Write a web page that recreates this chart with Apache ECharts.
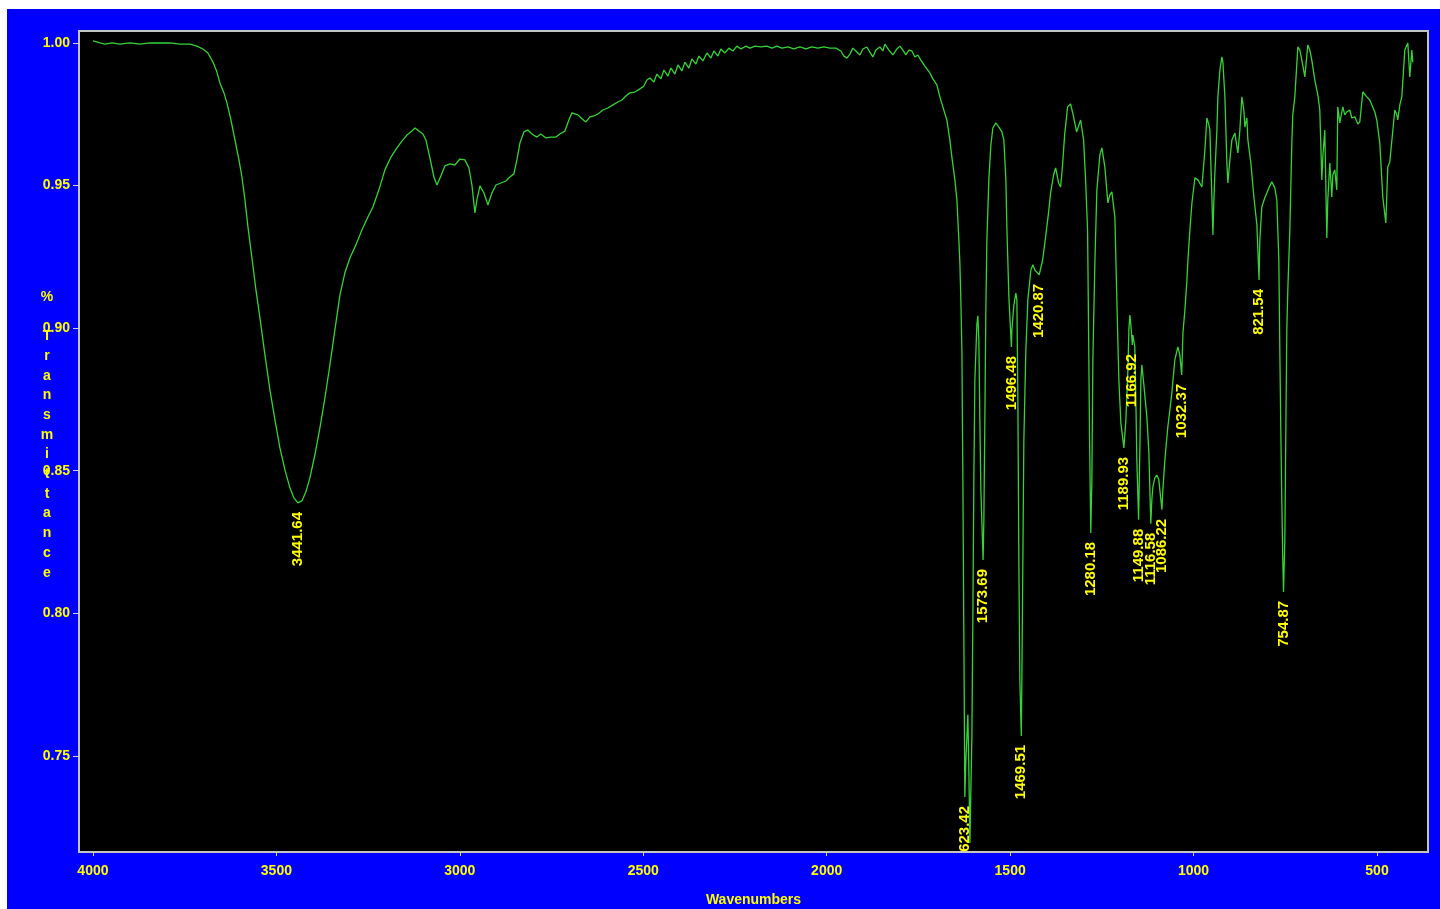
<!DOCTYPE html>
<html>
<head>
<meta charset="utf-8">
<title>% Transmittance vs Wavenumbers</title>
<script src="https://cdn.jsdelivr.net/npm/echarts@6/dist/echarts.min.js"></script>
<style>
  html, body { margin: 0; padding: 0; background: #ffffff; }
  #chart { width: 1440px; height: 909px; }
</style>
</head>
<body>
<div id="chart"></div>
<script>
// FT-IR spectrum: wavenumber (cm-1) and transmittance
const wavenumbers = [
  4000.0, 3989.1, 3980.9, 3967.3, 3948.2, 3926.4, 3899.2, 3871.9, 3844.6, 3817.4,
  3790.1, 3762.9, 3735.6, 3716.5, 3700.2, 3686.6, 3672.9, 3662.0, 3653.9, 3642.9,
  3634.8, 3623.9, 3613.0, 3602.0, 3593.9, 3585.7, 3577.5, 3566.6, 3555.7, 3544.8,
  3531.2, 3517.5, 3503.9, 3490.3, 3476.7, 3463.1, 3452.2, 3441.64, 3430.4, 3419.5,
  3408.6, 3395.0, 3381.3, 3367.7, 3354.1, 3340.5, 3326.8, 3313.2, 3299.6, 3283.2,
  3266.9, 3250.5, 3236.9, 3220.5, 3204.2, 3187.8, 3171.5, 3157.8, 3144.2, 3130.6,
  3122.4, 3111.5, 3100.6, 3092.4, 3081.5, 3070.6, 3062.4, 3051.5, 3040.6, 3027.0,
  3013.4, 2999.8, 2986.1, 2975.2, 2967.0, 2958.9, 2953.4, 2945.2, 2934.3, 2923.4,
  2912.5, 2901.6, 2888.0, 2874.4, 2863.5, 2852.6, 2844.4, 2836.2, 2825.3, 2814.4,
  2803.5, 2789.9, 2779.0, 2765.4, 2751.7, 2738.1, 2727.2, 2713.6, 2702.7, 2694.5,
  2678.1, 2667.2, 2656.3, 2645.4, 2634.5, 2623.6, 2610.0, 2596.4, 2582.7, 2569.1,
  2558.2, 2547.3, 2536.4, 2522.8, 2509.1, 2498.2, 2490.1, 2481.9, 2471.0, 2462.8,
  2451.9, 2443.7, 2432.8, 2424.6, 2413.7, 2405.5, 2394.6, 2386.5, 2375.6, 2367.4,
  2356.5, 2348.3, 2337.4, 2326.5, 2315.6, 2307.4, 2296.5, 2288.4, 2277.5, 2266.6,
  2255.6, 2244.7, 2233.8, 2220.2, 2209.3, 2195.7, 2179.4, 2163.0, 2149.4, 2135.8,
  2122.1, 2105.8, 2089.4, 2073.1, 2056.7, 2040.4, 2024.0, 2007.7, 1991.3, 1974.9,
  1961.3, 1953.1, 1944.9, 1936.8, 1928.6, 1920.4, 1909.5, 1901.4, 1890.5, 1882.3,
  1874.1, 1866.0, 1855.1, 1846.9, 1841.4, 1830.5, 1819.6, 1808.7, 1800.5, 1792.4,
  1784.2, 1776.0, 1767.8, 1759.7, 1751.5, 1743.3, 1732.4, 1718.8, 1710.6, 1699.7,
  1691.5, 1683.4, 1672.5, 1664.3, 1658.8, 1650.6, 1645.1, 1639.7, 1637.0, 1634.3,
  1631.5, 1628.8, 1626.1, 1623.42, 1620.7, 1615.2, 1612.5, 1609.7, 1607.0, 1604.3,
  1601.6, 1598.9, 1596.1, 1590.7, 1588.0, 1585.3, 1582.5, 1579.8, 1573.69, 1571.6,
  1568.9, 1566.2, 1563.4, 1558.0, 1552.5, 1547.1, 1538.9, 1530.7, 1522.5, 1517.1,
  1511.6, 1508.9, 1503.4, 1496.48, 1495.2, 1489.8, 1484.4, 1481.6, 1478.9, 1476.2,
  1473.5, 1469.51, 1468.0, 1465.3, 1462.6, 1457.1, 1451.7, 1446.2, 1443.5, 1438.0,
  1432.6, 1420.87, 1411.4, 1403.3, 1395.1, 1389.7, 1381.5, 1376.0, 1367.9, 1362.4,
  1357.0, 1351.5, 1343.3, 1335.2, 1327.0, 1318.8, 1307.9, 1299.8, 1294.3, 1288.9,
  1286.2, 1283.4, 1280.18, 1277.2, 1274.5, 1269.0, 1263.6, 1255.4, 1249.9, 1241.8,
  1233.6, 1228.2, 1222.7, 1214.5, 1209.1, 1203.6, 1198.2, 1189.93, 1184.5, 1179.0,
  1176.3, 1173.6, 1170.9, 1166.92, 1165.5, 1160.1, 1157.3, 1154.6, 1149.88, 1146.4,
  1143.6, 1140.9, 1135.5, 1127.3, 1121.8, 1116.58, 1113.7, 1111.0, 1105.5, 1100.1,
  1094.6, 1091.9, 1086.22, 1083.7, 1078.2, 1070.1, 1064.6, 1059.2, 1051.0, 1042.8,
  1037.4, 1032.37, 1029.0, 1023.6, 1018.1, 1015.4, 1010.0, 1004.5, 996.3, 988.2,
  977.3, 969.1, 963.7, 958.2, 955.5, 952.8, 950.0, 947.3, 944.6, 941.9,
  936.4, 933.7, 928.3, 922.8, 920.1, 914.6, 909.2, 906.5, 901.0, 895.6,
  887.4, 879.2, 873.8, 868.3, 862.9, 860.2, 854.7, 852.0, 843.8, 835.6,
  827.4, 821.54, 819.4, 814.0, 805.8, 800.3, 792.1, 786.7, 778.5, 773.1,
  767.6, 764.9, 762.2, 759.5, 756.8, 754.87, 751.2, 748.5, 745.8, 743.1,
  737.6, 732.2, 729.5, 724.0, 715.8, 710.4, 704.9, 696.7, 688.6, 683.1,
  677.7, 669.5, 661.3, 655.9, 650.4, 647.7, 642.3, 636.8, 634.1, 628.6,
  623.2, 620.5, 615.0, 609.6, 606.9, 601.4, 593.2, 587.8, 582.3, 574.2,
  568.7, 560.5, 552.4, 546.9, 538.7, 533.3, 527.8, 519.7, 514.2, 506.0,
  500.6, 492.4, 484.2, 476.0, 470.6, 465.1, 459.7, 451.5, 446.0, 443.3,
  437.8, 432.4, 424.2, 416.0, 410.6, 405.1, 402.4
];

const transmittance = [
  1.0007, 1.0004, 1.0000, 0.9996, 1.0000, 0.9996, 1.0000, 0.9996, 1.0000, 1.0000,
  1.0000, 0.9996, 0.9996, 0.9989, 0.9979, 0.9965, 0.9933, 0.9898, 0.9860, 0.9825,
  0.9790, 0.9730, 0.9660, 0.9590, 0.9530, 0.9450, 0.9355, 0.9246, 0.9134, 0.9036,
  0.8906, 0.8783, 0.8678, 0.8580, 0.8503, 0.8440, 0.8405, 0.8387, 0.8394, 0.8426,
  0.8475, 0.8556, 0.8650, 0.8755, 0.8871, 0.8994, 0.9116, 0.9194, 0.9246, 0.9292,
  0.9344, 0.9390, 0.9425, 0.9485, 0.9555, 0.9600, 0.9632, 0.9656, 0.9677, 0.9691,
  0.9702, 0.9691, 0.9681, 0.9660, 0.9597, 0.9530, 0.9502, 0.9534, 0.9569, 0.9576,
  0.9572, 0.9593, 0.9590, 0.9562, 0.9502, 0.9404, 0.9450, 0.9499, 0.9474, 0.9432,
  0.9474, 0.9502, 0.9509, 0.9516, 0.9530, 0.9541, 0.9590, 0.9649, 0.9688, 0.9695,
  0.9681, 0.9670, 0.9681, 0.9667, 0.9670, 0.9670, 0.9681, 0.9691, 0.9730, 0.9755,
  0.9748, 0.9734, 0.9723, 0.9741, 0.9744, 0.9751, 0.9765, 0.9772, 0.9783, 0.9793,
  0.9800, 0.9814, 0.9825, 0.9828, 0.9839, 0.9849, 0.9870, 0.9877, 0.9863, 0.9891,
  0.9874, 0.9905, 0.9884, 0.9912, 0.9891, 0.9923, 0.9902, 0.9933, 0.9912, 0.9944,
  0.9926, 0.9954, 0.9937, 0.9965, 0.9947, 0.9972, 0.9954, 0.9979, 0.9965, 0.9982,
  0.9972, 0.9989, 0.9979, 0.9989, 0.9982, 0.9989, 0.9986, 0.9989, 0.9982, 0.9989,
  0.9982, 0.9986, 0.9979, 0.9986, 0.9979, 0.9986, 0.9982, 0.9986, 0.9982, 0.9982,
  0.9972, 0.9954, 0.9947, 0.9961, 0.9982, 0.9972, 0.9958, 0.9979, 0.9986, 0.9968,
  0.9951, 0.9975, 0.9986, 0.9972, 0.9996, 0.9975, 0.9958, 0.9979, 0.9989, 0.9975,
  0.9958, 0.9975, 0.9972, 0.9951, 0.9958, 0.9940, 0.9919, 0.9895, 0.9874, 0.9853,
  0.9811, 0.9776, 0.9730, 0.9660, 0.9600, 0.9520, 0.9450, 0.9309, 0.9229, 0.9099,
  0.8924, 0.8468, 0.7907, 0.7356, 0.7486, 0.7644, 0.7451, 0.7195, 0.7381, 0.7563,
  0.7977, 0.8468, 0.8818, 0.9011, 0.9043, 0.8959, 0.8678, 0.8433, 0.8187, 0.8328,
  0.8678, 0.9064, 0.9309, 0.9520, 0.9642, 0.9702, 0.9720, 0.9705, 0.9688, 0.9660,
  0.9520, 0.9355, 0.9109, 0.8934, 0.8994, 0.9081, 0.9123, 0.9099, 0.8748, 0.8187,
  0.7767, 0.7570, 0.7767, 0.8187, 0.8608, 0.8924, 0.9099, 0.9169, 0.9204, 0.9222,
  0.9204, 0.9187, 0.9239, 0.9320, 0.9407, 0.9474, 0.9537, 0.9562, 0.9509, 0.9495,
  0.9572, 0.9677, 0.9776, 0.9786, 0.9741, 0.9688, 0.9730, 0.9660, 0.9520, 0.9344,
  0.8994, 0.8608, 0.8282, 0.8468, 0.8889, 0.9229, 0.9485, 0.9607, 0.9632, 0.9565,
  0.9439, 0.9467, 0.9478, 0.9390, 0.9099, 0.8818, 0.8668, 0.8580, 0.8678, 0.8854,
  0.8994, 0.9046, 0.9011, 0.8941, 0.8976, 0.8934, 0.8748, 0.8538, 0.8328, 0.8573,
  0.8818, 0.8871, 0.8801, 0.8689, 0.8563, 0.8314, 0.8398, 0.8443, 0.8475, 0.8485,
  0.8468, 0.8433, 0.8363, 0.8433, 0.8538, 0.8654, 0.8713, 0.8773, 0.8889, 0.8934,
  0.8906, 0.8836, 0.8983, 0.9064, 0.9169, 0.9239, 0.9344, 0.9439, 0.9527, 0.9520,
  0.9495, 0.9625, 0.9737, 0.9713, 0.9695, 0.9572, 0.9460, 0.9327, 0.9450, 0.9544,
  0.9695, 0.9811, 0.9905, 0.9951, 0.9933, 0.9811, 0.9579, 0.9509, 0.9590, 0.9660,
  0.9684, 0.9614, 0.9695, 0.9811, 0.9765, 0.9705, 0.9737, 0.9660, 0.9579, 0.9460,
  0.9362, 0.9169, 0.9309, 0.9425, 0.9457, 0.9474, 0.9499, 0.9513, 0.9492, 0.9450,
  0.9239, 0.8924, 0.8643, 0.8398, 0.8187, 0.8075, 0.8258, 0.8643, 0.8994, 0.9134,
  0.9344, 0.9649, 0.9748, 0.9811, 0.9986, 0.9975, 0.9940, 0.9881, 0.9993, 0.9975,
  0.9940, 0.9870, 0.9818, 0.9765, 0.9520, 0.9600, 0.9695, 0.9316, 0.9450, 0.9579,
  0.9460, 0.9537, 0.9555, 0.9485, 0.9776, 0.9720, 0.9776, 0.9748, 0.9758, 0.9765,
  0.9737, 0.9741, 0.9716, 0.9723, 0.9828, 0.9825, 0.9811, 0.9800, 0.9783, 0.9758,
  0.9730, 0.9649, 0.9460, 0.9369, 0.9565, 0.9583, 0.9579, 0.9765, 0.9748, 0.9730,
  0.9783, 0.9811, 0.9975, 1.0000, 0.9881, 0.9975, 0.9933
];

// Labelled absorption bands (cm-1)
const peakWavenumbers = [
  3441.64, 1623.42, 1573.69, 1496.48, 1469.51, 1420.87, 1280.18, 1189.93,
  1166.92, 1149.88, 1116.58, 1086.22, 1032.37, 821.54, 754.87
];
const peakTransmittance = peakWavenumbers.map(w => transmittance[wavenumbers.indexOf(w)]);

// Axis tick values
const xTicks = [500, 1000, 1500, 2000, 2500, 3000, 3500, 4000];
const yTicks = [0.75, 0.80, 0.85, 0.90, 0.95, 1.00];

const yTitle = '% Transmittance';
const xTitle = 'Wavenumbers';

const YELLOW = '#ffff00';
const FONT = '"Liberation Sans", Arial, sans-serif';

const chart = echarts.init(document.getElementById('chart'), null, { renderer: 'canvas' });

chart.setOption({
  animation: false,
  backgroundColor: '#0000fe',
  graphic: [
    { type: 'rect', shape: { x: 0, y: 0, width: 1440, height: 9 }, style: { fill: '#ffffff' }, silent: true },
    { type: 'rect', shape: { x: 0, y: 0, width: 7, height: 909 }, style: { fill: '#ffffff' }, silent: true },
    {
      type: 'text', x: 47, y: 287, silent: true,
      style: {
        text: yTitle.split('').join('\n'),
        fill: YELLOW, fontSize: 14, fontWeight: 'bold', fontFamily: FONT,
        align: 'center', verticalAlign: 'top', lineHeight: 19.7
      }
    }
  ],
  grid: {
    left: 79, right: 12, top: 31, bottom: 57,
    outerBoundsMode: 'none',
    containLabel: false,
    show: true, backgroundColor: '#000000',
    borderColor: '#c4c4c4', borderWidth: 2
  },
  xAxis: {
    type: 'value', inverse: true, min: 361, max: 4038,
    name: xTitle, nameLocation: 'middle', nameGap: 41,
    nameTextStyle: { color: YELLOW, fontSize: 14, fontWeight: 'bold', fontFamily: FONT },
    axisLine: { show: false },
    splitLine: { show: false },
    axisTick: { show: true, length: 4, customValues: xTicks, lineStyle: { color: '#d8d8a0', width: 1 } },
    axisLabel: {
      customValues: xTicks, margin: 12,
      formatter: v => String(v),
      color: YELLOW, fontSize: 14, fontWeight: 'bold', fontFamily: FONT
    }
  },
  yAxis: {
    type: 'value', min: 0.7163, max: 1.0042,
    axisLine: { show: false },
    splitLine: { show: false },
    axisTick: { show: true, length: 6, customValues: yTicks, lineStyle: { color: '#d0d0d0', width: 1 } },
    axisLabel: {
      customValues: yTicks, margin: 9,
      formatter: v => v.toFixed(2),
      color: YELLOW, fontSize: 14, fontWeight: 'bold', fontFamily: FONT
    }
  },
  series: [
    {
      type: 'line',
      data: wavenumbers.map((w, i) => [w, transmittance[i]]),
      showSymbol: false,
      symbol: 'none',
      lineStyle: { color: '#36d336', width: 1.3 },
      silent: true,
      z: 2
    },
    {
      type: 'custom',
      coordinateSystem: 'cartesian2d',
      clip: true,
      silent: true,
      z: 3,
      data: peakWavenumbers.map((w, i) => [w, peakTransmittance[i]]),
      renderItem: (params, api) => {
        const p = api.coord([api.value(0), api.value(1)]);
        return {
          type: 'text',
          x: p[0],
          y: p[1] + 9,
          rotation: Math.PI / 2,
          style: {
            text: api.value(0).toFixed(2),
            fill: YELLOW, fontSize: 15, fontWeight: 'bold', fontFamily: FONT,
            align: 'right', verticalAlign: 'middle'
          }
        };
      }
    }
  ]
});
</script>
</body>
</html>
